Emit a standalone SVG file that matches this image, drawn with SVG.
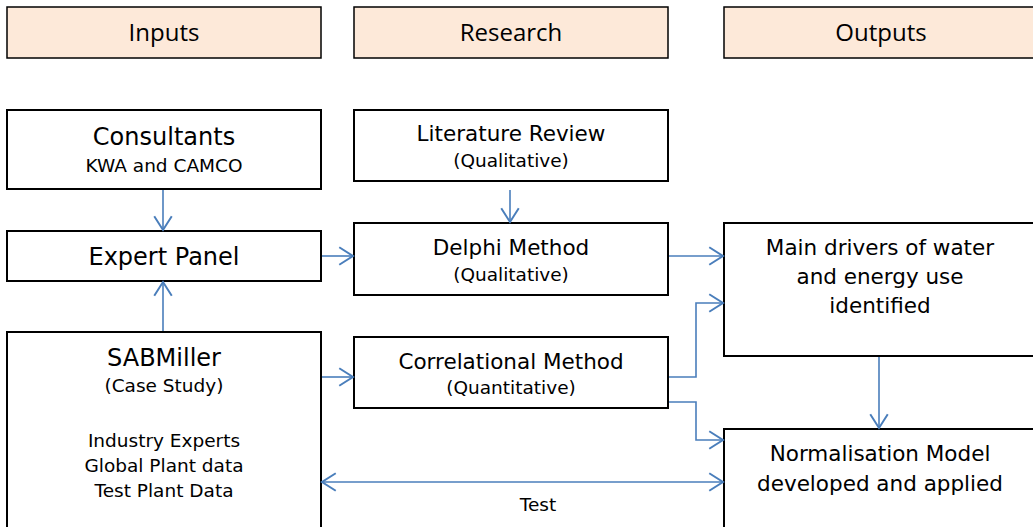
<svg xmlns="http://www.w3.org/2000/svg" width="1033" height="527" viewBox="0 0 1033 527">
<defs>
<marker id="ah" markerWidth="20" markerHeight="20" viewBox="-12 -8 14 16" refX="0" refY="0" orient="auto-start-reverse" markerUnits="userSpaceOnUse">
<path d="M-11,-7 L0,0 L-11,7" fill="none" stroke="#4a7ebb" stroke-width="1.6"/>
</marker>
</defs>
<style>
.hdr{fill:#fde9d9;stroke:#000;stroke-width:1.5}
.box{fill:#fff;stroke:#000;stroke-width:2}
.ht{font-family:"Open Sans","Liberation Sans",sans-serif;font-size:24px;fill:#000;text-anchor:middle}
.t{font-family:"DejaVu Sans","Liberation Sans",sans-serif;fill:#000;text-anchor:middle}
.big{font-size:24px}
.mid{font-size:21.5px}
.sm{font-size:18.5px}
.c{fill:none;stroke:#4a7ebb;stroke-width:1.6}
</style>
<g id="hdr-inputs"><rect class="hdr" x="7" y="7" width="314" height="51"/><text class="ht" x="164" y="41">Inputs</text></g>
<g id="hdr-research"><rect class="hdr" x="354" y="7" width="314" height="51"/><text class="ht" x="511" y="41">Research</text></g>
<g id="hdr-outputs"><rect class="hdr" x="724" y="7" width="320" height="51"/><text class="ht" x="881" y="41">Outputs</text></g>

<g id="consultants"><rect class="box" x="7" y="110" width="314" height="79"/><text class="t big" x="164" y="145">Consultants</text><text class="t sm" x="164" y="172">KWA and CAMCO</text></g>
<g id="literature"><rect class="box" x="354" y="110" width="314" height="71"/><text class="t mid" x="511" y="141">Literature Review</text><text class="t sm" x="511" y="167">(Qualitative)</text></g>
<g id="expert"><rect class="box" x="7" y="231" width="314" height="50"/><text class="t big" x="164" y="265">Expert Panel</text></g>
<g id="delphi"><rect class="box" x="354" y="223" width="314" height="72"/><text class="t mid" x="511" y="255">Delphi Method</text><text class="t sm" x="511" y="281">(Qualitative)</text></g>
<g id="drivers"><rect class="box" x="724" y="223" width="320" height="133"/><text class="t mid" x="880" y="255">Main drivers of water</text><text class="t mid" x="880" y="284">and energy use</text><text class="t mid" x="880" y="313">identified</text></g>
<g id="sabmiller"><rect class="box" x="7" y="332" width="314" height="205"/><text class="t big" x="164" y="366">SABMiller</text><text class="t sm" x="164" y="392">(Case Study)</text><text class="t sm" x="164" y="447">Industry Experts</text><text class="t sm" x="164" y="472">Global Plant data</text><text class="t sm" x="164" y="497">Test Plant Data</text></g>
<g id="correlational"><rect class="box" x="354" y="337" width="314" height="71"/><text class="t mid" x="511" y="369">Correlational Method</text><text class="t sm" x="511" y="394">(Quantitative)</text></g>
<g id="normalisation"><rect class="box" x="724" y="429" width="320" height="108"/><text class="t mid" x="880" y="461">Normalisation Model</text><text class="t mid" x="880" y="491">developed and applied</text></g>

<g id="connectors">
<line class="c" x1="163" y1="190" x2="163" y2="230" marker-end="url(#ah)"/>
<line class="c" x1="510" y1="190" x2="510" y2="222" marker-end="url(#ah)"/>
<line class="c" x1="322" y1="256" x2="353" y2="256" marker-end="url(#ah)"/>
<line class="c" x1="163" y1="331" x2="163" y2="282" marker-end="url(#ah)"/>
<line class="c" x1="322" y1="377" x2="353" y2="377" marker-end="url(#ah)"/>
<line class="c" x1="669" y1="256" x2="723" y2="256" marker-end="url(#ah)"/>
<polyline class="c" points="669,377 696,377 696,303 723,303" marker-end="url(#ah)"/>
<polyline class="c" points="669,402 696,402 696,440 723,440" marker-end="url(#ah)"/>
<line class="c" x1="879" y1="357" x2="879" y2="428" marker-end="url(#ah)"/>
<line class="c" x1="322" y1="482" x2="723" y2="482" marker-start="url(#ah)" marker-end="url(#ah)"/>
<text class="t sm" x="538" y="511">Test</text>
</g>
</svg>
